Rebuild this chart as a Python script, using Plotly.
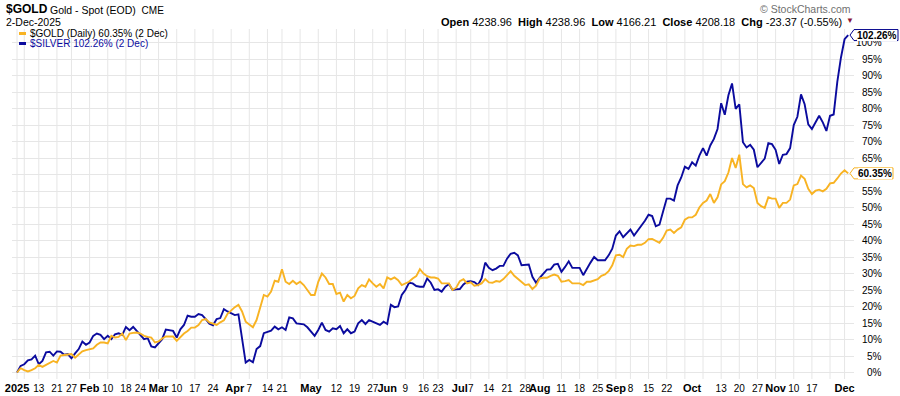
import pandas as pd
import plotly.graph_objects as go

# ---------------- header data ----------------
SYMBOL = "$GOLD"
TITLE = "Gold - Spot (EOD)"
EXCHANGE = "CME"
AS_OF = "2-Dec-2025"
OPEN_V, HIGH_V, LOW_V, CLOSE_V = 4238.96, 4238.96, 4166.21, 4208.18
CHG_V, CHG_PCT = -23.37, -0.55
GOLD_LAST, SILVER_LAST = 60.35, 102.26

HOLIDAYS = ["2025-01-01", "2025-01-09", "2025-01-20", "2025-02-17", "2025-04-18",
            "2025-05-26", "2025-06-19", "2025-07-04", "2025-09-01", "2025-11-27"]

# ---------------- series (% change since 2 Jan 2025, one per trading day) ----------------
gold_pct = [
    0, 1.3, 0.7, 0.3, 0.7, 1.3, 2.3, 1.7, 2.3, 3.0,
    3.5, 3.0, 5.1, 5.3, 5.4, 5.6, 4.5, 5.4, 6.4, 6.8,
    7.0, 7.3, 8.4, 9.1, 9.1, 8.8, 11.1, 10.6, 10.8, 11.8,
    9.8, 11.8, 12.0, 12.1, 11.8, 11.1, 10.8, 10.6, 9.1, 9.4,
    10.3, 10.9, 10.9, 10.9, 9.6, 10.8, 11.8, 12.6, 13.6, 13.6,
    14.4, 15.9, 16.2, 15.2, 14.8, 14.4, 15.2, 15.8, 17.8, 18.9,
    19.8, 20.5, 18.5, 15.4, 14.5, 13.7, 15.9, 20.0, 23.5, 23.0,
    24.5, 27.8, 27.5, 31.3, 27.5, 26.8, 27.8, 26.8, 27.5, 26.5,
    24.8, 23.5, 23.5, 27.5, 30.0, 28.8, 26.8, 26.8, 23.8, 24.2,
    21.5, 23.5, 22.5, 23.2, 25.5, 26.5, 26.0, 28.2, 27.0, 26.0,
    26.8, 25.5, 28.8, 28.2, 28.8, 28.0, 26.5, 27.0, 27.5, 28.5,
    29.2, 31.3, 30.0, 29.2, 28.8, 28.8, 28.5, 27.0, 27.0, 27.0,
    25.0, 25.7, 27.7, 28.3, 27.0, 27.3, 26.3, 26.5, 27.0, 28.3,
    27.3, 27.2, 27.7, 27.5, 28.3, 29.5, 30.7, 29.3, 28.3, 27.5,
    26.5, 26.7, 25.3, 26.3, 28.5, 28.7, 28.7, 29.3, 29.7, 29.3,
    27.5, 27.7, 28.0, 27.0, 27.0, 27.0, 26.5, 27.5, 27.5, 28.0,
    28.3, 29.3, 29.7, 30.7, 32.5, 35.5, 35.7, 35.0, 37.5, 38.5,
    38.3, 38.7, 38.7, 39.3, 40.4, 40.5, 39.8, 39.3, 40.8, 43.0,
    43.3, 42.3, 43.3, 44.0, 46.3, 47.0, 47.0, 47.8, 50.0, 51.4,
    52.1, 54.1, 51.4, 53.1, 57.0, 58.0, 60.6, 65.0, 62.0, 66.0,
    57.1, 56.1, 56.7, 55.9, 51.4, 50.4, 49.9, 53.1, 52.7, 52.7,
    49.9, 51.4, 51.4, 52.4, 56.7, 57.1, 59.7, 58.7, 55.7, 54.1,
    55.1, 55.4, 54.9, 55.7, 57.3, 57.5, 58.8, 60.3, 61.3, 60.35,
]

silver_pct = [
    0, 2.0, 2.5, 3.7, 4.0, 5.1, 2.5, 3.5, 6.1, 6.3,
    5.1, 6.4, 6.3, 5.4, 5.6, 4.3, 5.8, 7.1, 9.4, 8.4,
    9.1, 11.1, 11.8, 11.4, 10.1, 11.1, 10.1, 11.6, 11.9, 11.4,
    13.8, 12.8, 13.8, 12.6, 11.4, 10.1, 10.4, 7.9, 7.6, 8.8,
    10.1, 13.0, 12.8, 12.6, 10.6, 13.1, 14.4, 17.2, 16.9, 16.9,
    17.7, 17.4, 16.2, 14.8, 14.3, 16.2, 16.5, 19.2, 18.5, 17.9,
    17.4, 17.6, 9.8, 3.0, 3.8, 3.1, 7.1, 8.0, 11.9, 12.2,
    12.7, 13.9, 13.1, 13.7, 12.9, 16.7, 16.4, 14.9, 14.8, 14.6,
    13.7, 12.4, 11.1, 12.9, 15.1, 12.9, 12.4, 13.4, 13.1, 14.1,
    11.9, 13.1, 11.9, 12.4, 14.9, 15.9, 14.7, 15.9, 15.4, 14.8,
    14.4, 15.4, 14.7, 20.5, 19.8, 20.0, 23.5, 25.0, 27.2, 27.0,
    26.2, 26.0, 26.0, 28.5, 27.2, 25.0, 25.2, 24.5, 26.0, 26.8,
    25.0, 25.2, 25.3, 26.7, 27.5, 27.7, 27.4, 26.5, 28.5, 33.3,
    31.7, 31.0, 31.5, 32.3, 32.3, 34.5, 36.0, 36.3, 35.5, 32.5,
    32.5, 32.7, 29.0, 27.2, 28.7, 30.0, 31.2, 31.3, 32.7, 32.9,
    30.5, 32.0, 33.7, 31.7, 31.7, 31.7, 29.5, 31.5, 33.3, 35.0,
    34.0, 34.0, 34.0, 35.5, 37.5, 41.5, 42.8, 41.0, 42.0, 43.3,
    41.5, 43.0, 44.3, 46.0, 47.8, 47.4, 44.3, 44.8, 48.8, 52.7,
    52.7, 52.1, 56.7, 59.1, 62.4, 61.7, 63.7, 62.7, 65.7, 68.0,
    65.7, 68.8, 70.8, 73.8, 81.6, 78.1, 84.0, 87.6, 79.9, 81.3,
    69.8, 68.2, 69.0, 67.5, 62.2, 63.5, 64.8, 69.5, 69.2, 67.5,
    63.2, 66.0, 66.2, 68.0, 75.0, 77.5, 84.3, 81.3, 75.2, 73.8,
    75.8, 77.8, 75.8, 73.2, 77.8, 78.2, 88.1, 95.4, 101.0, 102.26,
]

tick_dates = ["2025-01-02", "2025-01-13", "2025-01-21", "2025-01-27", "2025-02-03", "2025-02-10",
              "2025-02-18", "2025-02-24", "2025-03-03", "2025-03-10", "2025-03-17", "2025-03-24",
              "2025-04-01", "2025-04-07", "2025-04-14", "2025-04-21", "2025-05-01", "2025-05-12",
              "2025-05-19", "2025-05-27", "2025-06-02", "2025-06-09", "2025-06-16", "2025-06-23",
              "2025-07-01", "2025-07-07", "2025-07-14", "2025-07-21", "2025-07-28", "2025-08-01",
              "2025-08-11", "2025-08-18", "2025-08-25", "2025-09-02", "2025-09-08", "2025-09-15",
              "2025-09-22", "2025-10-01", "2025-10-13", "2025-10-20", "2025-10-27", "2025-11-03",
              "2025-11-10", "2025-11-17", "2025-12-01"]
tick_text = ["2025", "13", "21", "27", "Feb", "10", "18", "24", "Mar", "10", "17", "24",
             "Apr", "7", "14", "21", "May", "12", "19", "27", "Jun", "9", "16", "23",
             "Jul", "7", "14", "21", "28", "Aug", "11", "18", "25", "Sep", "8", "15", "22",
             "Oct", "13", "20", "27", "Nov", "10", "17", "Dec"]
y_ticks = [0, 5, 10, 15, 20, 25, 30, 35, 40, 45, 50, 55, 60, 65, 70, 75, 80, 85, 90, 95, 100]

# ---------------- styling ----------------
GOLD_C = "#f8b323"
SILVER_C = "#0b0b9e"
GRID_C = "#e6e6e6"
FONT = "Arial, Liberation Sans, sans-serif"

W, H = 900, 396
L, R, T, B = 12, 854, 29, 379
XMIN, XMAX = -1.38, 230.6
YMIN, YMAX = -1.97, 104.1


def px(xp, yp):
    return (xp - L) / (R - L), (B - yp) / (B - T)


def ypix(v):
    return B - (v - YMIN) / (YMAX - YMIN) * (B - T)


# ---------------- dates / x positions ----------------
dates = [d for d in pd.bdate_range("2025-01-02", "2025-12-02") if d.strftime("%Y-%m-%d") not in HOLIDAYS]
date_str = [d.strftime("%Y-%m-%d") for d in dates]
n = min(len(date_str), len(gold_pct), len(silver_pct))
xs = list(range(n))

tickvals, ticktexts = [], []
for d, t in zip(tick_dates, tick_text):
    if d in date_str:
        tickvals.append(date_str.index(d))
        if t.isdigit() and len(t) <= 2:
            ticktexts.append(t)
        else:
            ticktexts.append("<span style='font-size:11px'><b>%s</b></span>" % t)

week_starts = [0] + [i for i in range(1, n)
                     if dates[i].isocalendar()[1] != dates[i - 1].isocalendar()[1]]

fig = go.Figure()
fig.add_trace(go.Scatter(x=xs, y=silver_pct[:n], mode="lines",
                         line=dict(color=SILVER_C, width=1.9), hoverinfo="skip", showlegend=False))
fig.add_trace(go.Scatter(x=xs, y=gold_pct[:n], mode="lines",
                         line=dict(color=GOLD_C, width=1.9), hoverinfo="skip", showlegend=False))

shapes = []
for i in week_starts:
    shapes.append(dict(type="line", xref="x", yref="paper", x0=i, x1=i, y0=0, y1=1,
                       line=dict(color=GRID_C, width=1), layer="below"))

annotations = []
tag_centres = [ypix(GOLD_LAST), ypix(SILVER_LAST)]
# y-axis labels (right aligned); a label fully hidden behind a value tag is not drawn
for v in y_ticks:
    if any(abs(ypix(v) - c) < 4 for c in tag_centres):
        continue
    annotations.append(dict(xref="paper", yref="y", x=px(884, 0)[0], y=v, text="%d%%" % v,
                            showarrow=False, xanchor="right", yanchor="middle",
                            font=dict(family=FONT, size=10, color="#000")))

# header
x0p, _ = px(4, 0)
annotations.append(dict(xref="paper", yref="paper", x=x0p, y=px(0, 9)[1],
                        text="<b>%s</b>" % SYMBOL, showarrow=False, xanchor="left", yanchor="middle",
                        font=dict(family=FONT, size=12, color="#000")))
annotations.append(dict(xref="paper", yref="paper", x=px(48, 0)[0], y=px(0, 9.5)[1],
                        text="%s\u00a0 <span style='font-size:10px'>%s</span>" % (TITLE, EXCHANGE),
                        showarrow=False, xanchor="left", yanchor="middle",
                        font=dict(family=FONT, size=10.5, color="#000")))
annotations.append(dict(xref="paper", yref="paper", x=x0p, y=px(0, 22)[1], text=AS_OF,
                        showarrow=False, xanchor="left", yanchor="middle",
                        font=dict(family=FONT, size=10.5, color="#000")))
# legend
annotations.append(dict(xref="paper", yref="paper", x=px(28, 0)[0], y=px(0, 33.5)[1],
                        text="$GOLD (Daily) %.2f%% (2 Dec)" % GOLD_LAST,
                        showarrow=False, xanchor="left", yanchor="middle",
                        font=dict(family=FONT, size=10, color="#000")))
annotations.append(dict(xref="paper", yref="paper", x=px(28, 0)[0], y=px(0, 43.5)[1],
                        text="$SILVER %.2f%% (2 Dec)" % SILVER_LAST,
                        showarrow=False, xanchor="left", yanchor="middle",
                        font=dict(family=FONT, size=10, color=SILVER_C)))
for yy, c in ((33.5, GOLD_C), (43.5, SILVER_C)):
    a, b = px(19, yy)
    a2, _ = px(26, yy)
    shapes.append(dict(type="line", xref="paper", yref="paper", x0=a, x1=a2, y0=b, y1=b,
                       line=dict(color=c, width=3)))

# top right
annotations.append(dict(xref="paper", yref="paper", x=px(853, 0)[0], y=px(0, 9)[1],
                        text="\u00a9 StockCharts.com", showarrow=False, xanchor="right", yanchor="middle",
                        font=dict(family=FONT, size=10.5, color="#707070")))
sp = "\u00a0\u00a0"
ohlc = ("<b>Open</b> %.2f%s<b>High</b> %.2f%s<b>Low</b> %.2f%s<b>Close</b> %.2f%s<b>Chg</b> %.2f (%.2f%%)"
        % (OPEN_V, sp, HIGH_V, sp, LOW_V, sp, CLOSE_V, sp, CHG_V, CHG_PCT))
annotations.append(dict(xref="paper", yref="paper", x=px(844, 0)[0], y=px(0, 21.5)[1],
                        text=ohlc, showarrow=False, xanchor="right", yanchor="middle",
                        font=dict(family=FONT, size=11, color="#000")))
annotations.append(dict(xref="paper", yref="paper", x=px(850, 0)[0], y=px(0, 21)[1],
                        text="\u25bc", showarrow=False, xanchor="center", yanchor="middle",
                        font=dict(family=FONT, size=8, color="#8b1538")))


# value tags
def add_tag(value, color, label, xr):
    yc = ypix(value)
    h = 5.5
    xl, xb = 850, 854
    pts = [(xl, yc), (xb, yc - h), (xr, yc - h), (xr, yc + h), (xb, yc + h)]
    pp = [px(a, b) for a, b in pts]
    path = "M " + " L ".join("%.5f,%.5f" % p for p in pp) + " Z"
    shapes.append(dict(type="path", xref="paper", yref="paper", path=path,
                       fillcolor="white", line=dict(color=color, width=1), layer="above"))
    annotations.append(dict(xref="paper", yref="paper", x=px(xr - 1.5, 0)[0], y=px(0, yc)[1],
                            text="<b>%s</b>" % label, showarrow=False, xanchor="right", yanchor="middle",
                            bgcolor="white", borderpad=0, borderwidth=0,
                            font=dict(family=FONT, size=10, color="#000")))


add_tag(SILVER_LAST, "#00008b", "%.2f%%" % SILVER_LAST, 898)
add_tag(GOLD_LAST, GOLD_C, "%.2f%%" % GOLD_LAST, 893)

fig.update_layout(
    width=W, height=H,
    margin=dict(l=L, r=W - R, t=T, b=H - B, pad=0, autoexpand=False),
    paper_bgcolor="white", plot_bgcolor="white",
    showlegend=False,
    xaxis=dict(range=[XMIN, XMAX], tickmode="array", tickvals=tickvals, ticktext=ticktexts,
               showgrid=False, zeroline=False, showline=False, ticks="", automargin=False,
               ticklabelstandoff=2,
               tickfont=dict(family=FONT, size=10, color="#000"), tickangle=0, fixedrange=True),
    yaxis=dict(range=[YMIN, YMAX], tickmode="array", tickvals=y_ticks, showticklabels=False,
               showgrid=True, gridcolor=GRID_C, gridwidth=1, zeroline=False, showline=False,
               ticks="", automargin=False, fixedrange=True),
    shapes=shapes,
    annotations=annotations,
)

fig.write_html("out.html", config={"displayModeBar": False, "staticPlot": True},
               post_script="document.body.style.margin='0';document.body.style.overflow='hidden';")
